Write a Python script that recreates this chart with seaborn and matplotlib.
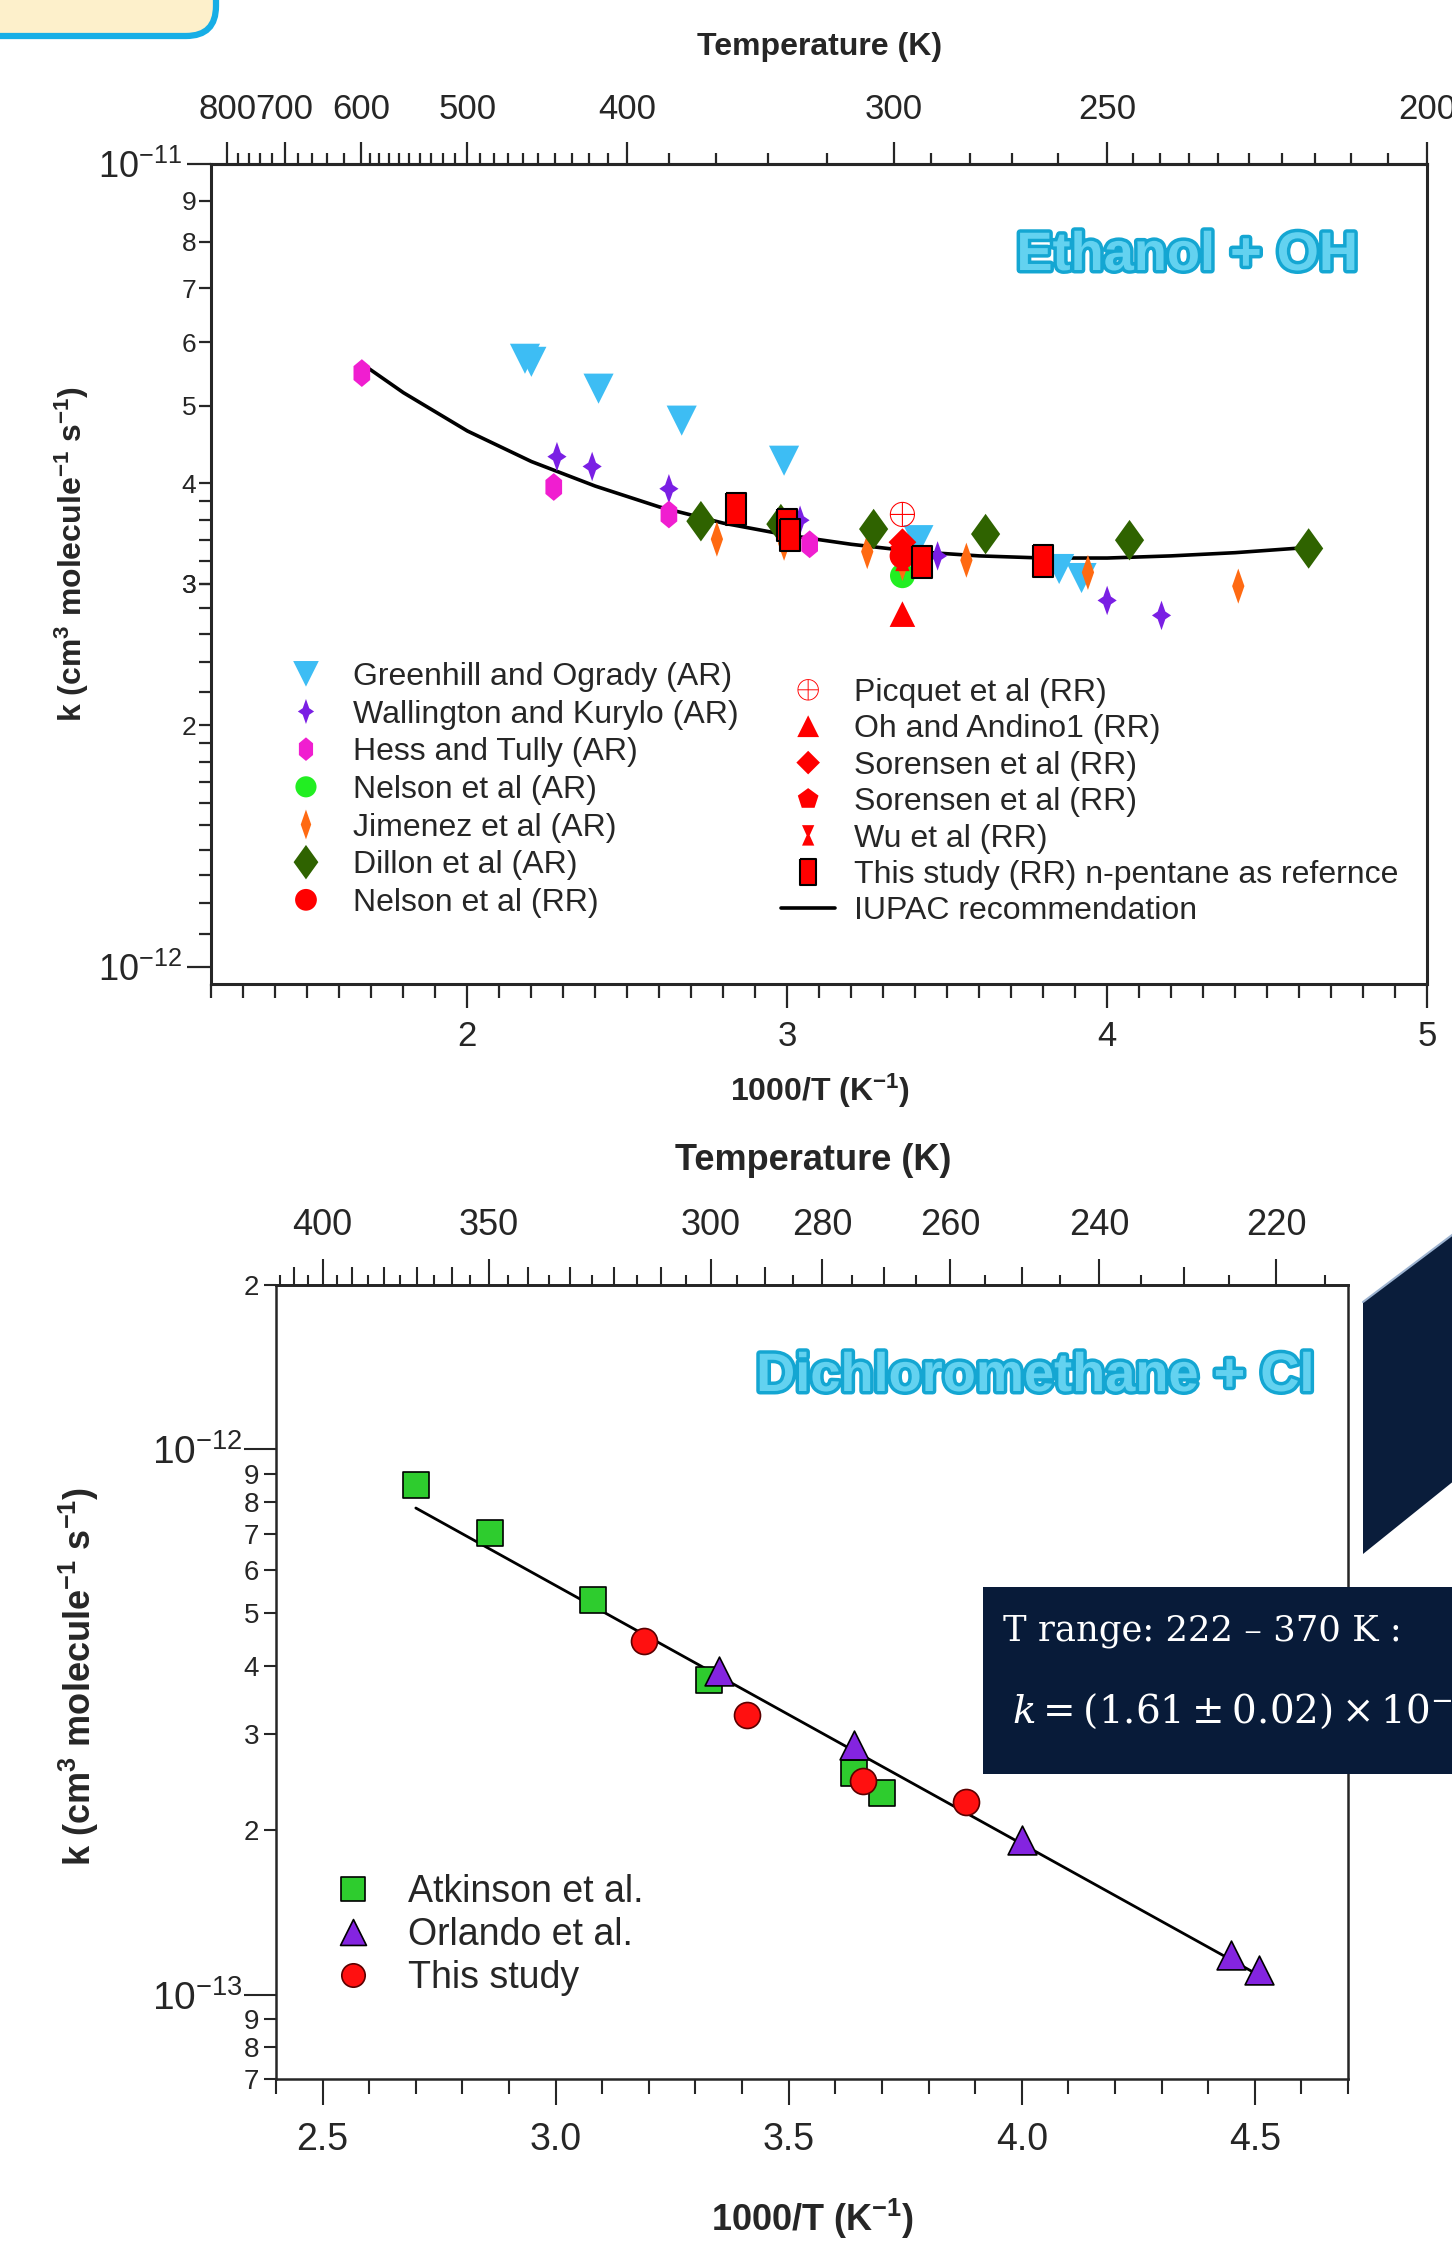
import numpy as np
import matplotlib
matplotlib.use("Agg")
import matplotlib.pyplot as plt
import matplotlib.patheffects as pe
from matplotlib.patches import FancyBboxPatch, Rectangle, Polygon
from matplotlib.lines import Line2D
from matplotlib.ticker import FixedLocator, FuncFormatter
from matplotlib.transforms import IdentityTransform
import seaborn as sns

W, H, DPI = 1452, 2257, 100

sns.set_style("ticks")
plt.rcParams["font.family"] = ["Liberation Sans", "DejaVu Sans"]
plt.rcParams["mathtext.fontset"] = "custom"
plt.rcParams["mathtext.rm"] = "Liberation Sans"
plt.rcParams["mathtext.it"] = "Liberation Sans:italic"
plt.rcParams["mathtext.bf"] = "Liberation Sans:bold"

# ---- Ethanol + OH : x = 1000/T (K^-1), k in cm3 molecule-1 s-1
greenhill_x = [2.18, 2.20, 2.41, 2.67, 2.99, 3.41, 3.85, 3.92]
greenhill_k = [5.72e-12, 5.67e-12, 5.25e-12, 4.79e-12, 4.27e-12, 3.40e-12, 3.13e-12, 3.05e-12]
wallington_x = [2.28, 2.39, 2.63, 3.04, 3.47, 4.00, 4.17]
wallington_k = [4.32e-12, 4.20e-12, 3.94e-12, 3.60e-12, 3.25e-12, 2.86e-12, 2.74e-12]
hess_x = [1.67, 2.27, 2.63, 3.07]
hess_k = [5.49e-12, 3.96e-12, 3.66e-12, 3.36e-12]
nelson_ar_x = [3.36]
nelson_ar_k = [3.07e-12]
jimenez_x = [2.78, 2.99, 3.25, 3.36, 3.56, 3.94, 4.41]
jimenez_k = [3.41e-12, 3.37e-12, 3.29e-12, 3.18e-12, 3.21e-12, 3.10e-12, 2.98e-12]
dillon_x = [2.73, 2.98, 3.27, 3.62, 4.07, 4.63]
dillon_k = [3.59e-12, 3.56e-12, 3.51e-12, 3.46e-12, 3.40e-12, 3.32e-12]
nelson_rr_x = [3.36]
nelson_rr_k = [3.25e-12]
picquet_x = [3.36]
picquet_k = [3.66e-12]
oh_x = [3.36]
oh_k = [2.75e-12]
sorensen1_x = [3.36]
sorensen1_k = [3.38e-12]
sorensen2_x = [3.36]
sorensen2_k = [3.30e-12]
wu_x = [3.36]
wu_k = [3.22e-12]
study_x = [2.84, 3.00, 3.01, 3.42, 3.80]
study_k = [3.72e-12, 3.55e-12, 3.45e-12, 3.19e-12, 3.20e-12]
iupac_x = [1.67, 1.8, 2.0, 2.2, 2.4, 2.6, 2.8, 3.0, 3.2, 3.4, 3.6, 3.8, 4.0, 4.2, 4.4, 4.63]
iupac_k = [5.64e-12, 5.19e-12, 4.65e-12, 4.26e-12, 3.97e-12, 3.74e-12, 3.57e-12, 3.45e-12,
           3.36e-12, 3.29e-12, 3.25e-12, 3.23e-12, 3.23e-12, 3.25e-12, 3.28e-12, 3.33e-12]

# ---- Dichloromethane + Cl
atkinson_x = [2.70, 2.86, 3.08, 3.33, 3.64, 3.70]
atkinson_k = [8.58e-13, 7.03e-13, 5.28e-13, 3.77e-13, 2.55e-13, 2.34e-13]
orlando_x = [3.35, 3.64, 4.00, 4.45, 4.51]
orlando_k = [3.92e-13, 2.87e-13, 1.92e-13, 1.18e-13, 1.11e-13]
thisstudy_x = [3.19, 3.41, 3.66, 3.88]
thisstudy_k = [4.45e-13, 3.26e-13, 2.46e-13, 2.25e-13]
fit_x = [2.70, 4.53]
fit_k = [7.8e-13, 1.06e-13]

top_T_ticks = [800, 700, 600, 500, 400, 300, 250, 200]
bot_T_ticks = [400, 350, 300, 280, 260, 240, 220]

# custom marker shapes
star4 = [(0, 1), (0.26, 0.26), (0.65, 0), (0.26, -0.26), (0, -1), (-0.26, -0.26), (-0.65, 0), (-0.26, 0.26), (0, 1)]
tall_hex = [(0, 1), (0.6, 0.5), (0.6, -0.5), (0, -1), (-0.6, -0.5), (-0.6, 0.5), (0, 1)]
thin_diamond = [(0, 1), (0.35, 0), (0, -1), (-0.35, 0), (0, 1)]
diamond = [(0, 1), (0.72, 0), (0, -1), (-0.72, 0), (0, 1)]
bowtie = [(-0.6, 1), (0.6, 1), (0.15, 0), (0.6, -1), (-0.6, -1), (-0.15, 0), (-0.6, 1)]
tall_rect = [(-0.62, 1), (0.62, 1), (0.62, -1), (-0.62, -1), (-0.62, 1)]


def fx(px):
    return px / W


def fy(py):
    return 1 - py / H


def inv(v):
    v = np.asarray(v, dtype=float)
    with np.errstate(divide="ignore", invalid="ignore"):
        return 1000.0 / v


def major_fmt(v, pos):
    return "10$^{%d}$" % round(np.log10(v))


def minor_fmt(v, pos):
    e = np.floor(np.log10(v) + 1e-9)
    m = v / 10 ** e
    if abs(m - round(m)) < 1e-6 and 2 <= round(m) <= 9:
        return str(int(round(m)))
    return ""


def pts(ax, x, y, marker, color, s, label, ec="none", lw=0.0, z=3):
    sns.scatterplot(x=x, y=y, marker=marker, color=color, s=s, edgecolor=ec,
                    linewidth=lw, label=label, legend=False, ax=ax, zorder=z)
    return ax.collections[-1]


fig = plt.figure(figsize=(W / DPI, H / DPI), dpi=DPI)

# ================= top panel =================
ax1 = fig.add_axes([fx(211.5), fy(984), fx(1427) - fx(211.5), fy(164) - fy(984)])
ax1.set_yscale("log")

h_top = []
h_top.append(pts(ax1, greenhill_x, greenhill_k, "v", "#3DBDF4", 470, "Greenhill and Ogrady (AR)"))
h_top.append(pts(ax1, wallington_x, wallington_k, star4, "#7A1FE4", 450, "Wallington and Kurylo (AR)"))
h_top.append(pts(ax1, hess_x, hess_k, tall_hex, "#F01ED0", 400, "Hess and Tully (AR)"))
h_top.append(pts(ax1, nelson_ar_x, nelson_ar_k, "o", "#22EE22", 320, "Nelson et al (AR)"))
h_top.append(pts(ax1, jimenez_x, jimenez_k, thin_diamond, "#FF6A12", 640, "Jimenez et al (AR)"))
h_top.append(pts(ax1, dillon_x, dillon_k, diamond, "#2F6300", 850, "Dillon et al (AR)"))
h_top.append(pts(ax1, nelson_rr_x, nelson_rr_k, "o", "#FF0000", 340, "Nelson et al (RR)"))
h_top.append(pts(ax1, picquet_x, picquet_k, r"$\oplus$", "#FF0000", 330, "Picquet et al (RR)"))
h_top.append(pts(ax1, oh_x, oh_k, "^", "#FF0000", 340, "Oh and Andino1 (RR)"))
h_top.append(pts(ax1, sorensen1_x, sorensen1_k, "D", "#FF0000", 200, "Sorensen et al (RR)"))
h_top.append(pts(ax1, sorensen2_x, sorensen2_k, "p", "#FF0000", 340, "Sorensen et al (RR)"))
h_top.append(pts(ax1, wu_x, wu_k, bowtie, "#FF0000", 300, "Wu et al (RR)"))
h_top.append(pts(ax1, study_x, study_k, tall_rect, "#FF0000", 520,
                 "This study (RR) n-pentane as refernce", ec="black", lw=1.5, z=4))
sns.lineplot(x=iupac_x, y=iupac_k, color="black", lw=2.6, ax=ax1, legend=False, zorder=2.5)
h_top.append(Line2D([], [], color="black", lw=2.6))
lab_top = ["Greenhill and Ogrady (AR)", "Wallington and Kurylo (AR)", "Hess and Tully (AR)",
           "Nelson et al (AR)", "Jimenez et al (AR)", "Dillon et al (AR)", "Nelson et al (RR)",
           "Picquet et al (RR)", "Oh and Andino1 (RR)", "Sorensen et al (RR)", "Sorensen et al (RR)",
           "Wu et al (RR)", "This study (RR) n-pentane as refernce", "IUPAC recommendation"]

ax1.set_xlim(1.2, 5)
ax1.set_ylim(0.952e-12, 1e-11)
ax1.set_xticks([2, 3, 4, 5], labels=["2", "3", "4", "5"])
ax1.set_xticks(np.arange(1.2, 5.0, 0.1), minor=True)
ax1.yaxis.set_major_locator(FixedLocator([1e-12, 1e-11]))
top_sub = np.r_[np.arange(1.1, 2.0, 0.1), np.arange(2.2, 4.0, 0.2), np.arange(2, 10, 1)]
ax1.yaxis.set_minor_locator(FixedLocator(np.sort(top_sub) * 1e-12))
ax1.yaxis.set_major_formatter(FuncFormatter(major_fmt))
ax1.yaxis.set_minor_formatter(FuncFormatter(minor_fmt))
ax1.tick_params(axis="x", which="major", length=17, width=1.6, labelsize=25, pad=9)
ax1.tick_params(axis="x", which="minor", length=10, width=1.6)
ax1.tick_params(axis="y", which="major", length=17, width=1.6, labelsize=26, pad=4)
ax1.tick_params(axis="y", which="minor", length=9, width=1.6, labelsize=19, pad=2)
for sp in ax1.spines.values():
    sp.set_linewidth(2.2)
    sp.set_visible(True)
ax1.set_xlabel("")
ax1.set_ylabel("")

sec1 = ax1.secondary_xaxis("top", functions=(inv, inv))
sec1.set_ticks(top_T_ticks, labels=[str(t) for t in top_T_ticks])
top_T_minor = [t for t in (list(range(620, 800, 20)) + list(range(410, 600, 10)) +
                           list(range(320, 400, 20)) + list(range(260, 300, 10)) +
                           list(range(205, 250, 5))) if t not in top_T_ticks]
sec1.xaxis.set_minor_locator(FixedLocator(top_T_minor))
sec1.tick_params(which="major", length=16, width=1.6, labelsize=25, pad=11)
sec1.tick_params(which="minor", length=8, width=1.6)
sec1.spines["top"].set_linewidth(2.2)

leg1 = ax1.legend(handles=h_top[:7], labels=lab_top[:7], loc="upper left",
                  bbox_to_anchor=(fx(290), fy(662)), bbox_transform=fig.transFigure,
                  frameon=False, fontsize=23, handlelength=1.0, handletextpad=0.97,
                  labelspacing=0.24, borderpad=0, borderaxespad=0, markerscale=0.85,
                  scatterpoints=1, scatteryoffsets=[0.5])
ax1.add_artist(leg1)
ax1.legend(handles=h_top[7:], labels=lab_top[7:], loc="upper left",
           bbox_to_anchor=(fx(781), fy(678)), bbox_transform=fig.transFigure,
           frameon=False, fontsize=23, handlelength=1.7, handletextpad=0.6,
           labelspacing=0.2, borderpad=0, borderaxespad=0, markerscale=0.85,
           scatterpoints=1, scatteryoffsets=[0.5])

fig.text(fx(820), fy(47), "Temperature (K)", ha="center", va="center", fontsize=23, fontweight="bold")
fig.text(fx(820), fy(1091), r"1000/T (K$^{\mathbf{-1}}$)", ha="center", va="center",
         fontsize=23, fontweight="bold")
fig.text(fx(72), fy(554), r"k (cm$^{\mathbf{3}}$ molecule$^{\mathbf{-1}}$ s$^{\mathbf{-1}}$)",
         ha="center", va="center", rotation=90, fontsize=23, fontweight="bold")
fig.text(fx(1187), fy(256), "Ethanol + OH", ha="center", va="center", fontsize=39,
         fontweight="heavy", color="#63D2F0",
         path_effects=[pe.withStroke(linewidth=5, foreground="#14A6D2")])

# ================= bottom panel =================
ax2 = fig.add_axes([fx(276), fy(2079), fx(1348) - fx(276), fy(1285) - fy(2079)])
ax2.set_yscale("log")
sns.lineplot(x=fit_x, y=fit_k, color="black", lw=2.0, ax=ax2, legend=False, zorder=2)
h_bot = [
    pts(ax2, atkinson_x, atkinson_k, "s", "#2ECC2E", 350, "Atkinson et al.", ec="black", lw=1.2),
    pts(ax2, orlando_x, orlando_k, "^", "#8424E0", 430, "Orlando et al.", ec="black", lw=1.2),
    pts(ax2, thisstudy_x, thisstudy_k, "o", "#FF1010", 350, "This study", ec="#5A0000", lw=1.2),
]
ax2.set_xlim(2.4, 4.7)
ax2.set_ylim(7e-14, 2e-12)
ax2.set_xticks([2.5, 3.0, 3.5, 4.0, 4.5], labels=["2.5", "3.0", "3.5", "4.0", "4.5"])
ax2.set_xticks(np.arange(2.4, 4.71, 0.1), minor=True)
ax2.yaxis.set_major_locator(FixedLocator([1e-13, 1e-12]))
bot_minor = np.r_[np.arange(7, 10) * 1e-14, np.arange(2, 10) * 1e-13, [2e-12]]
ax2.yaxis.set_minor_locator(FixedLocator(bot_minor))
ax2.yaxis.set_major_formatter(FuncFormatter(major_fmt))
ax2.yaxis.set_minor_formatter(FuncFormatter(minor_fmt))
ax2.tick_params(axis="x", which="major", length=19, width=1.5, labelsize=27, pad=12)
ax2.tick_params(axis="x", which="minor", length=11, width=1.5)
ax2.tick_params(axis="y", which="major", length=23, width=1.5, labelsize=28, pad=1)
ax2.tick_params(axis="y", which="minor", length=9, width=1.5, labelsize=20, pad=3)
for sp in ax2.spines.values():
    sp.set_linewidth(1.8)
    sp.set_visible(True)
ax2.set_xlabel("")
ax2.set_ylabel("")

sec2 = ax2.secondary_xaxis("top", functions=(inv, inv))
sec2.set_ticks(bot_T_ticks, labels=[str(t) for t in bot_T_ticks])
sec2.xaxis.set_minor_locator(FixedLocator([t for t in range(230, 420, 10) if t not in bot_T_ticks]))
sec2.tick_params(which="major", length=19, width=1.5, labelsize=26, pad=11)
sec2.tick_params(which="minor", length=13, width=1.5)
sec2.spines["top"].set_linewidth(1.8)
sec3 = ax2.secondary_xaxis("top", functions=(inv, inv))
five_k = list(range(215, 420, 10))
sec3.set_ticks(five_k, labels=[""] * len(five_k))
sec3.tick_params(which="major", length=7, width=1.5)
sec3.spines["top"].set_linewidth(1.8)

ax2.legend(handles=h_bot, labels=["Atkinson et al.", "Orlando et al.", "This study"],
           loc="upper left", bbox_to_anchor=(fx(334), fy(1874)), bbox_transform=fig.transFigure,
           frameon=False, fontsize=27, handlelength=1.0, handletextpad=0.96,
           labelspacing=0.19, borderpad=0, borderaxespad=0, markerscale=0.9,
           scatterpoints=1, scatteryoffsets=[0.5])

fig.text(fx(813), fy(1160), "Temperature (K)", ha="center", va="center", fontsize=26, fontweight="bold")
fig.text(fx(813), fy(2219), r"1000/T (K$^{\mathbf{-1}}$)", ha="center", va="center",
         fontsize=26, fontweight="bold")
fig.text(fx(79), fy(1676), r"k (cm$^{\mathbf{3}}$ molecule$^{\mathbf{-1}}$ s$^{\mathbf{-1}}$)",
         ha="center", va="center", rotation=90, fontsize=26, fontweight="bold")
fig.text(fx(1035), fy(1377), "Dichloromethane + Cl", ha="center", va="center", fontsize=39,
         fontweight="heavy", color="#63D2F0",
         path_effects=[pe.withStroke(linewidth=5, foreground="#14A6D2")])

# ================= slide decorations =================
fig.add_artist(FancyBboxPatch((-40, H - 36), 256, 120, boxstyle="round,pad=0,rounding_size=30",
                              transform=IdentityTransform(), fc="#FDF0CB", ec="#17AEE6", lw=4.5))
fig.add_artist(Polygon([(1363, H - 1302), (1460, H - 1229), (1460, H - 1476), (1363, H - 1554)],
                       closed=True, transform=IdentityTransform(), fc="#0A1D3B", ec="none"))
fig.add_artist(Line2D([1363, 1460], [H - 1302, H - 1229], transform=IdentityTransform(),
                      color="#9DB3D0", lw=1.5))
fig.add_artist(Rectangle((983, H - 1774), 500, 187, transform=IdentityTransform(),
                         fc="#081B39", ec="none", zorder=5))
fig.text(fx(1003), fy(1640), "T range: 222 – 370 K :", color="white", fontsize=25.5,
         family="DejaVu Serif", ha="left", va="baseline", zorder=6)
fig.text(fx(1012), fy(1722), r"$k = (1.61 \pm 0.02) \times 10^{-11}$", color="white",
         fontsize=28, math_fontfamily="dejavuserif", ha="left", va="baseline", zorder=6)

fig.savefig("out.png", dpi=DPI)
